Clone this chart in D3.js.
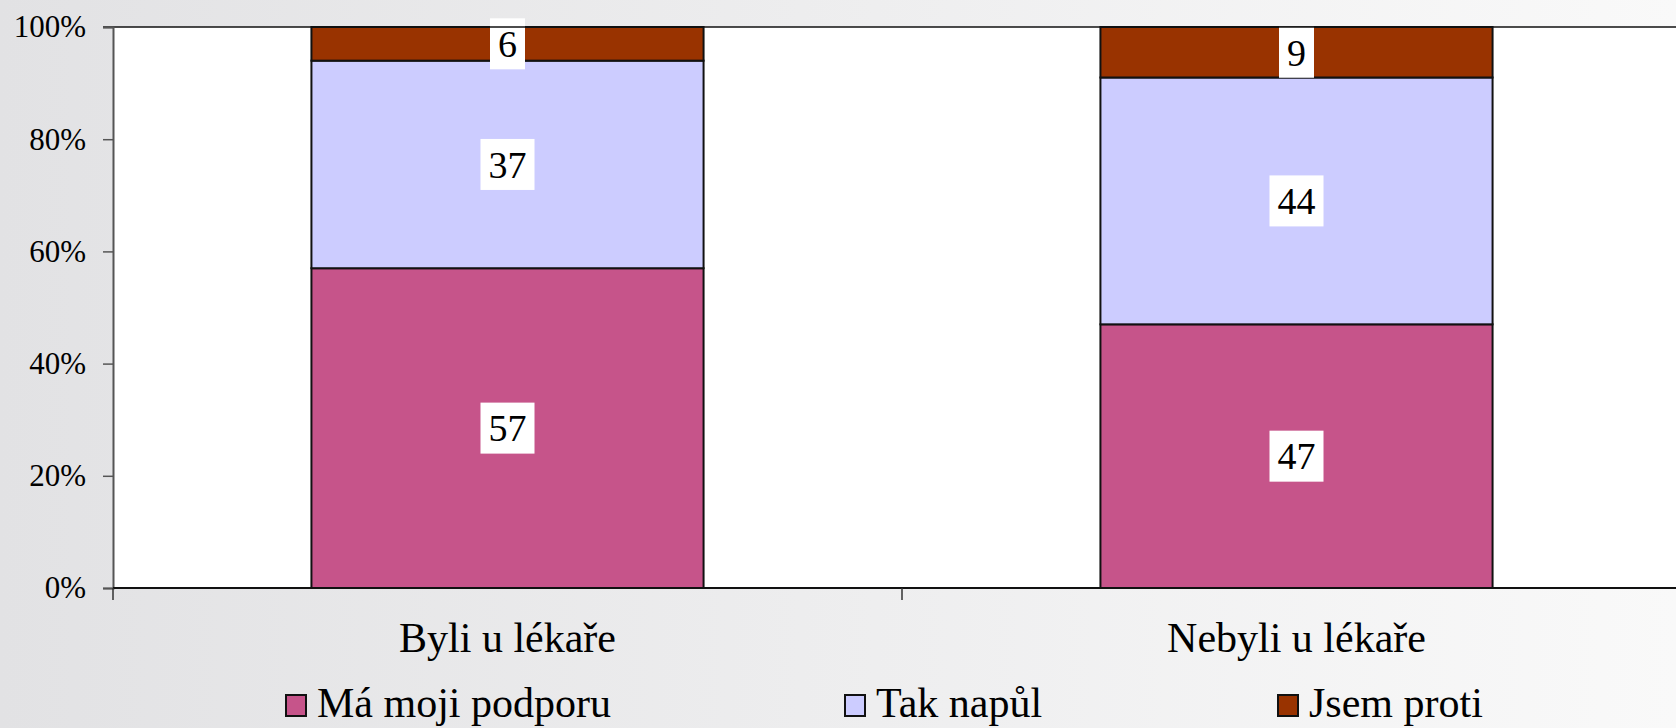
<!DOCTYPE html>
<html>
<head>
<meta charset="utf-8">
<script src="https://cdn.jsdelivr.net/npm/d3@7/dist/d3.min.js"></script>
<style>
  html, body { margin: 0; padding: 0; overflow: hidden; }
  svg { display: block; }
  text { font-family: "Liberation Serif", "Times New Roman", serif; fill: #000; }
</style>
</head>
<body>
<svg id="chart" width="1676" height="728"></svg>
<script>
// ---- data ----
const categories = ["Byli u lékaře", "Nebyli u lékaře"];
const seriesNames = ["Má moji podporu", "Tak napůl", "Jsem proti"];
const seriesColors = ["#C6548A", "#CCCCFF", "#993300"];
const supportValues = [57, 47];
const halfValues = [37, 44];
const againstValues = [6, 9];
const yTickValues = [0, 20, 40, 60, 80, 100];
const yTickLabels = ["0%", "20%", "40%", "60%", "80%", "100%"];

const seriesValues = [supportValues, halfValues, againstValues];

// ---- layout ----
const W = 1676, H = 728;
const plot = { left: 113, top: 27, bottom: 588, right: 1691 };

const svg = d3.select("#chart");

// background gradient
const defs = svg.append("defs");
const grad = defs.append("linearGradient").attr("id", "bg").attr("x1", "0").attr("x2", "1").attr("y1", "0").attr("y2", "0");
grad.append("stop").attr("offset", "0%").attr("stop-color", "#e2e2e4");
grad.append("stop").attr("offset", "100%").attr("stop-color", "#f9f9f9");
svg.append("rect").attr("width", W).attr("height", H).attr("fill", "url(#bg)");

// plot area
svg.append("rect")
  .attr("x", plot.left).attr("y", plot.top)
  .attr("width", plot.right - plot.left).attr("height", plot.bottom - plot.top)
  .attr("fill", "#ffffff");

const x = d3.scaleBand().domain(categories).range([plot.left, plot.right]).padding(0);
const y = d3.scaleLinear().domain([0, 100]).range([plot.bottom, plot.top]);
const barFrac = 0.497;
const barW = x.bandwidth() * barFrac;

// stacked data
const rows = categories.map((c, i) => {
  const r = { cat: c };
  seriesNames.forEach((s, j) => r[s] = seriesValues[j][i]);
  return r;
});
const stack = d3.stack().keys(seriesNames)(rows);

const g = svg.append("g");
stack.forEach((layer, j) => {
  g.selectAll(null).data(layer).enter().append("rect")
    .attr("x", d => x(d.data.cat) + (x.bandwidth() - barW) / 2)
    .attr("y", d => y(d[1]))
    .attr("width", barW)
    .attr("height", d => y(d[0]) - y(d[1]))
    .attr("fill", seriesColors[j])
    .attr("stroke", "#111")
    .attr("stroke-width", 2);
});

// data labels
const labelFont = 38;
stack.forEach((layer, j) => {
  layer.forEach(d => {
    const cx = x(d.data.cat) + x.bandwidth() / 2;
    const cy = (y(d[0]) + y(d[1])) / 2;
    const val = d[1] - d[0];
    const lg = svg.append("g");
    const t = lg.append("text")
      .attr("x", cx).attr("y", cy)
      .attr("text-anchor", "middle")
      .attr("dy", "0.35em")
      .attr("font-size", labelFont)
      .text(val);
    const bb = t.node().getBBox();
    lg.insert("rect", "text")
      .attr("x", cx - bb.width / 2 - 8)
      .attr("y", cy - 25.5)
      .attr("width", bb.width + 16)
      .attr("height", 51)
      .attr("fill", "#ffffff");
  });
});

// top border of plot area
svg.append("line")
  .attr("x1", plot.left - 10).attr("x2", plot.right)
  .attr("y1", plot.top).attr("y2", plot.top)
  .attr("stroke", "#111").attr("stroke-width", 1.5);

// y axis
const yAxis = d3.axisLeft(y).tickValues(yTickValues)
  .tickFormat((d, i) => yTickLabels[i]).tickSize(10).tickPadding(17);
const yg = svg.append("g").attr("transform", `translate(${plot.left},0)`).call(yAxis);
yg.attr("font-family", null);
yg.select(".domain").attr("stroke", "#555").attr("stroke-width", 2);
yg.selectAll(".tick line").attr("stroke", "#555").attr("stroke-width", 1.5);
yg.selectAll(".tick text")
  .attr("font-size", 31).attr("fill", "#000");

// x axis line
svg.append("line")
  .attr("x1", plot.left).attr("x2", plot.right)
  .attr("y1", plot.bottom).attr("y2", plot.bottom)
  .attr("stroke", "#111").attr("stroke-width", 2);

// x axis ticks at category boundaries
const boundaries = categories.map(c => x(c)).concat([x(categories[categories.length - 1]) + x.bandwidth()]);
svg.selectAll(null).data(boundaries).enter().append("line")
  .attr("x1", d => d).attr("x2", d => d)
  .attr("y1", plot.bottom).attr("y2", plot.bottom + 12)
  .attr("stroke", "#333").attr("stroke-width", 1.5);

// category labels
svg.selectAll(null).data(categories).enter().append("text")
  .attr("x", d => x(d) + x.bandwidth() / 2)
  .attr("y", 652)
  .attr("text-anchor", "middle")
  .attr("font-size", 42)
  .text(d => d);

// legend
const legendX = [285, 844, 1277];
const lg = svg.append("g");
seriesNames.forEach((s, i) => {
  lg.append("rect")
    .attr("x", legendX[i] + 1).attr("y", 695)
    .attr("width", 20).attr("height", 21)
    .attr("fill", seriesColors[i])
    .attr("stroke", "#111").attr("stroke-width", 2);
  lg.append("text")
    .attr("x", legendX[i] + 32).attr("y", 717)
    .attr("font-size", 42)
    .text(s);
});
</script>
</body>
</html>
